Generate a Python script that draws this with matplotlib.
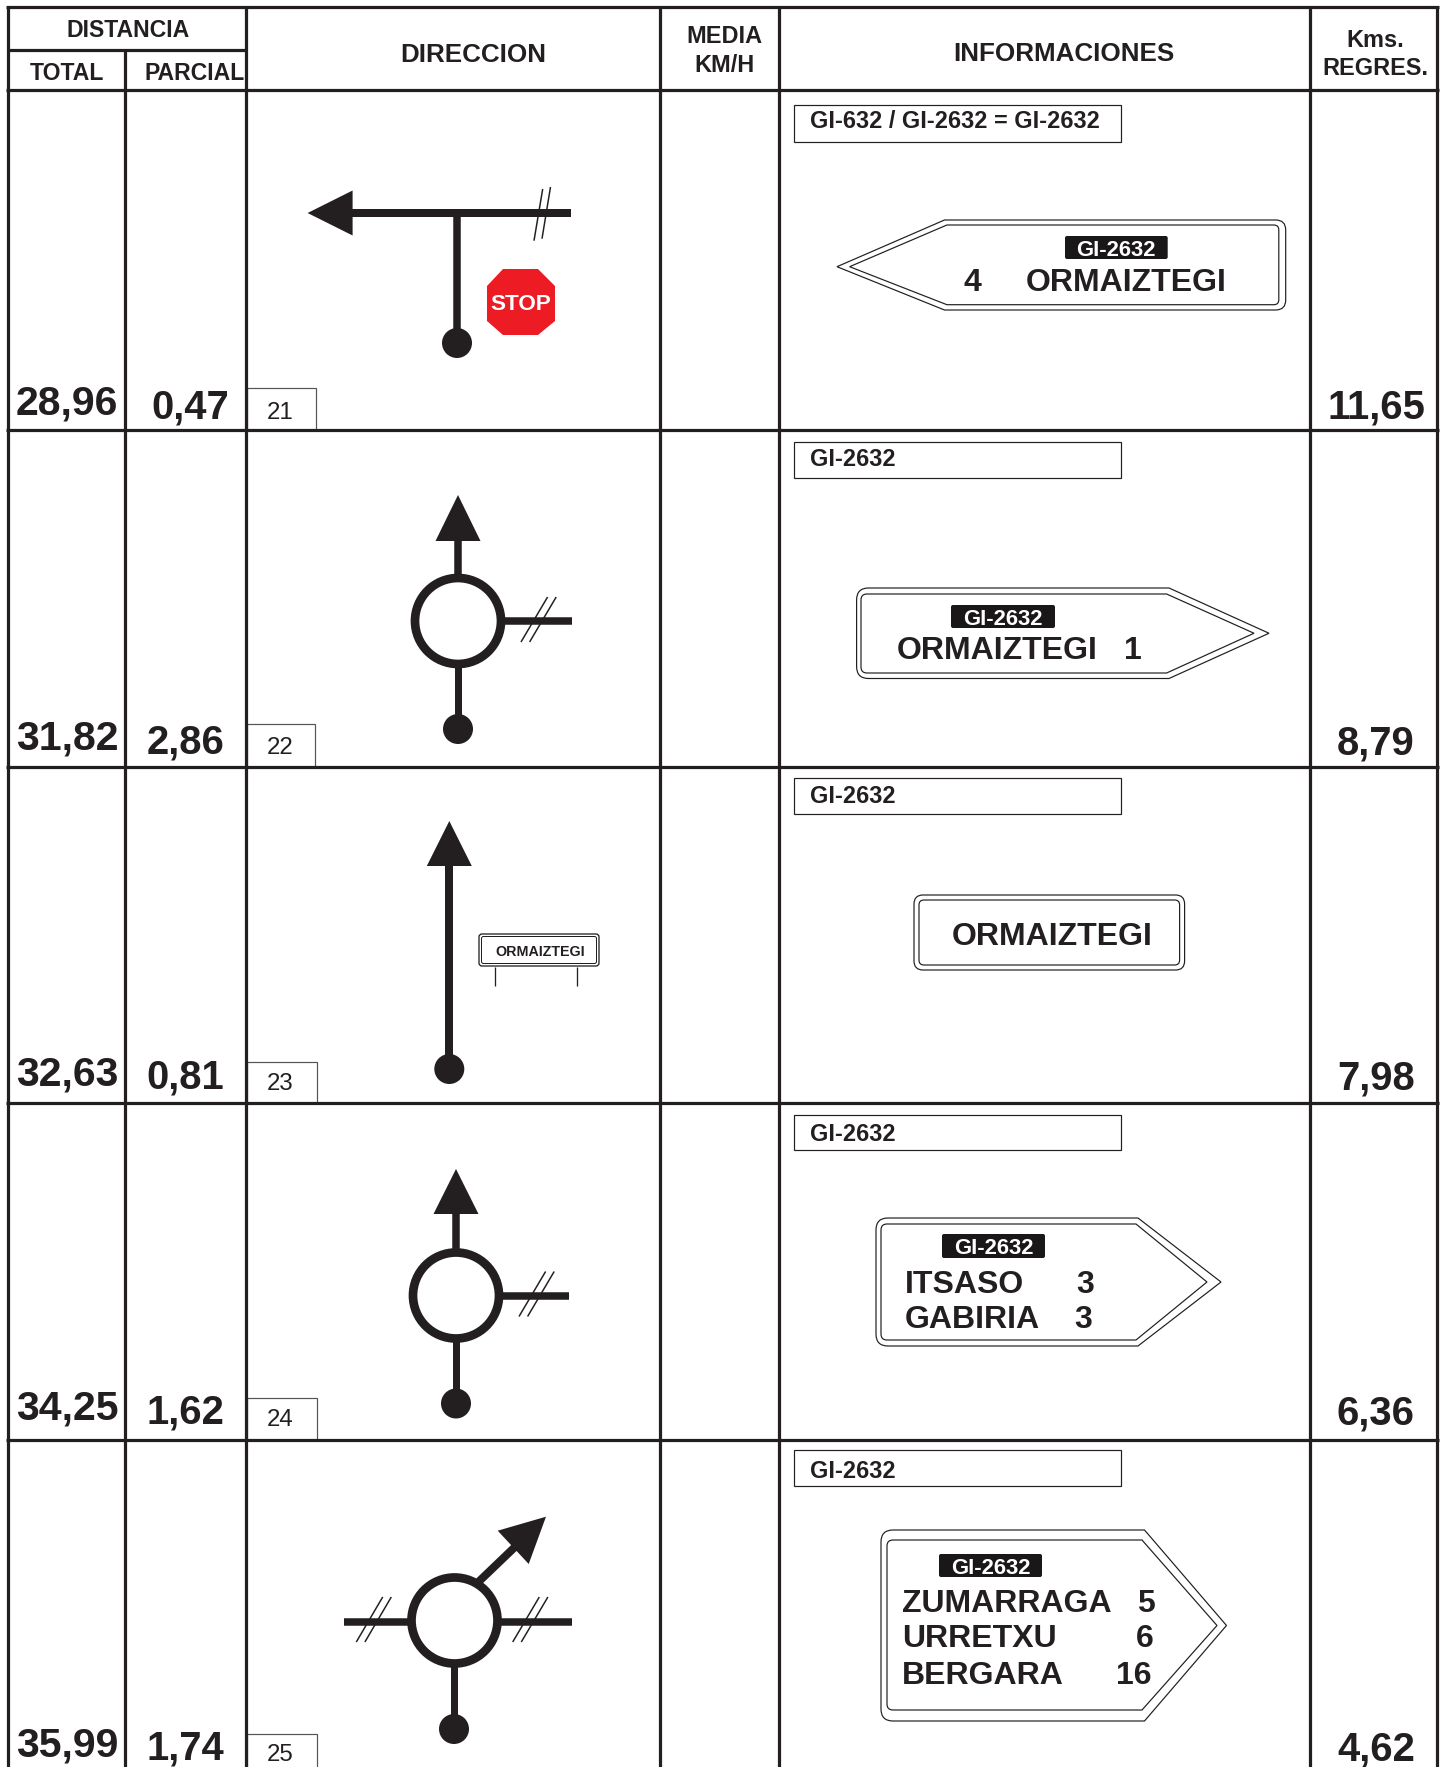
import numpy as np
import matplotlib
matplotlib.use("Agg")
import matplotlib.pyplot as plt
from matplotlib.patches import Circle, PathPatch, Polygon, Rectangle, FancyBboxPatch
from matplotlib.path import Path

plt.rcParams['font.family'] = ['Liberation Sans', 'DejaVu Sans']

# table values
step_ids = ["21", "22", "23", "24", "25"]
total_km = ["28,96", "31,82", "32,63", "34,25", "35,99"]
partial_km = ["0,47", "2,86", "0,81", "1,62", "1,74"]
regres_km = ["11,65", "8,79", "7,98", "6,36", "4,62"]
road_labels = ["GI-632 / GI-2632 = GI-2632", "GI-2632", "GI-2632", "GI-2632", "GI-2632"]
place = "ORMAIZTEGI"
plate = "GI-2632"
row4_names = ["ITSASO", "GABIRIA"]
row4_km = ["3", "3"]
row5_names = ["ZUMARRAGA", "URRETXU", "BERGARA"]
row5_km = ["5", "6", "16"]

INK = "#231f20"
W, H = 1446, 1767

fig = plt.figure(figsize=(W / 100, H / 100), dpi=100)
ax = fig.add_axes([0, 0, 1, 1])
ax.set_xlim(0, W)
ax.set_ylim(H, 0)
ax.axis("off")


def px(v):
    return v * 0.72


def txt(x, y, s, size, ha="center", color=INK, weight="bold", zorder=6):
    ax.text(x, y, s, fontsize=px(size), ha=ha, va="baseline", color=color,
            fontweight=weight, zorder=zorder)


def seg(x0, y0, x1, y1, w, color=INK, zorder=3):
    ax.plot([x0, x1], [y0, y1], color=color, lw=px(w), solid_capstyle="butt", zorder=zorder)


def rounded(points, radii):
    # closed outline with a little curve on the corners that have a radius
    verts, codes = [], []
    n = len(points)
    for i in range(n):
        p = np.array(points[i], float)
        r = radii[i]
        a = np.array(points[i - 1], float)
        b = np.array(points[(i + 1) % n], float)
        if r > 0:
            s = p + (a - p) / np.linalg.norm(a - p) * r
            e = p + (b - p) / np.linalg.norm(b - p) * r
            verts += [s, p, e]
            codes += [Path.LINETO, Path.CURVE3, Path.CURVE3]
        else:
            verts.append(p)
            codes.append(Path.LINETO)
    codes[0] = Path.MOVETO
    verts.append(verts[0])
    codes.append(Path.CLOSEPOLY)
    return Path(verts, codes)


def outline(points, radii, lw=1.2):
    ax.add_patch(PathPatch(rounded(points, radii), fc="white", ec=INK, lw=px(lw), zorder=4))


def plate_box(x0, x1, y0, y1):
    ax.add_patch(FancyBboxPatch((x0 + 2, y0 + 2), x1 - x0 - 4, y1 - y0 - 4,
                                boxstyle="round,pad=2,rounding_size=2",
                                fc="#1a1718", ec="none", zorder=5))
    txt((x0 + x1) / 2, (y0 + y1) / 2 + 8, plate, 22, color="white")


def right_sign(l, t, b, sh, tip, il, it, ib, ish, itip):
    my = (t + b) / 2
    outline([(l, t), (sh, t), (tip, my), (sh, b), (l, b)], [12, 0, 0, 0, 12])
    outline([(il, it), (ish, it), (itip, my), (ish, ib), (il, ib)], [6, 0, 0, 0, 6])


def dot(x, y):
    ax.add_patch(Circle((x, y), 15, fc=INK, ec="none", zorder=5))


def up_head(x, tip, base, half=22.5):
    ax.add_patch(Polygon([(x, tip), (x - half, base), (x + half, base)], fc=INK, ec="none", zorder=5))


def ring(x, y):
    ax.add_patch(Circle((x, y), 43, fc="white", ec=INK, lw=px(8.7), zorder=4))


def slashes(x, y):
    # the two thin strokes across a road that is not taken
    for off in (0, 8.6):
        seg(x + 63 + off, y + 21, x + 63 + off + 26.6, y - 24, 1.5, zorder=4)


def roundabout_up(x, y, tip, base, right_end):
    seg(x, base, x, y, 7.5)
    up_head(x, tip, base)
    seg(x, y, x, y + 108, 7)
    dot(x, y + 108)
    seg(x, y, right_end, y, 7.5)
    slashes(x, y)
    ring(x, y)


# table grid
LW = 3.2
row_lines = [90, 430, 767, 1103, 1440]
col_lines = [8, 246, 659.5, 779, 1309.5, 1437]
seg(6.4, 7, 1438.6, 7, LW)
for y in row_lines:
    seg(6.4, y, 1438.6, y, LW)
seg(8, 50, 246, 50, LW)
for x in col_lines:
    seg(x, 7, x, H, LW)
seg(125, 50, 125, H, LW)

# headers
txt(128.5, 36.7, "DISTANCIA", 23)
txt(67, 80, "TOTAL", 23)
txt(195, 80, "PARCIAL", 23)
txt(473.5, 61.5, "DIRECCION", 26)
txt(724, 43, "MEDIA", 23.5)
txt(724, 72, "KM/H", 23.5)
txt(1064, 61, "INFORMACIONES", 26)
txt(1375, 46.7, "Kms.", 23.5)
txt(1375, 75, "REGRES.", 23.5)

# numbers down the rows
total_base = [414, 749, 1085, 1419, 1756]
part_base = [418, 753, 1088, 1423, 1759]
part_x = [190.5, 185.5, 185, 185, 185]
reg_base = [418, 754, 1089, 1424, 1760]
id_box = [(388, 316), (724, 315), (1062, 317), (1398, 317), (1734, 317)]
id_base = [419, 754, 1090, 1426, 1761]
label_box = [(105, 142), (442, 478), (778, 814), (1115, 1150), (1450, 1486)]
label_base = [128, 465.5, 802.5, 1140.5, 1478]
for i in range(5):
    txt(67, total_base[i], total_km[i], 41)
    txt(part_x[i], part_base[i], partial_km[i], 40)
    txt(1376, reg_base[i], regres_km[i], 40)
    top, right = id_box[i]
    ax.add_patch(Rectangle((247, top), right - 247, H + 20 - top if i == 4 else row_lines[i + 1] - top,
                           fc="white", ec="#555555", lw=px(1.2), zorder=2))
    txt(280, id_base[i], step_ids[i], 24, weight="normal")
    y0, y1 = label_box[i]
    ax.add_patch(Rectangle((793.5, y0), 327.5, y1 - y0, fc="white", ec=INK, lw=px(1.2), zorder=2))
    txt(810, label_base[i], road_labels[i], 23.5, ha="left")

# row 1 diagram
seg(352, 213, 571, 213, 8)
ax.add_patch(Polygon([(307.6, 213), (352.6, 190.5), (352.6, 235.5)], fc=INK, ec="none", zorder=5))
seg(457, 209, 457, 343, 7.5)
dot(457, 343)
seg(534, 240.7, 542.7, 189, 1.5, zorder=4)
seg(542, 238.7, 550.5, 187, 1.5, zorder=4)
ax.add_patch(Polygon([(503, 269), (538, 269), (555, 286), (555, 321), (538, 335), (503, 335),
                      (487, 321), (487, 286)], fc="#ed1c24", ec="none", zorder=5))
txt(520.5, 310, "STOP", 22.5, color="white")

# row 2 and row 4 diagrams
roundabout_up(458, 621, 495, 541, 571.5)
roundabout_up(456, 1295.5, 1169, 1214, 569)

# row 3 diagram
seg(449.3, 866, 449.3, 1069, 8)
up_head(449.3, 821, 866)
dot(449.3, 1069)
ax.add_patch(FancyBboxPatch((479, 934), 120, 32, boxstyle="round,pad=0,rounding_size=3",
                            fc="white", ec=INK, lw=px(1.3), zorder=4))
ax.add_patch(FancyBboxPatch((481.5, 936.5), 115, 27, boxstyle="round,pad=0,rounding_size=2",
                            fc="white", ec=INK, lw=px(1.0), zorder=4))
txt(540, 955.7, place, 14.3)
seg(494.7, 967, 494.7, 985.7, 1.3)
seg(576.7, 967, 576.7, 985.7, 1.3)

# row 5 diagram
seg(344, 1622, 572, 1622, 7.5)
seg(454, 1620, 454, 1729, 7)
dot(454, 1729)
seg(470, 1590, 517, 1545, 8)
ax.add_patch(Polygon([(546, 1516.7), (497.7, 1530.7), (528.7, 1564)], fc=INK, ec="none", zorder=5))
for off in (0, 8.6):
    seg(356.3 + off, 1642, 382.7 + off, 1597, 1.5, zorder=4)
    seg(512.7 + off, 1642, 539.3 + off, 1597, 1.5, zorder=4)
ring(454.5, 1620.5)

# row 1 sign, points left
outline([(837, 266.7), (944.5, 220), (1285.7, 220), (1285.7, 310), (944.5, 310)], [0, 0, 10, 10, 0])
outline([(849.6, 266.7), (946.9, 225), (1278.8, 225), (1278.8, 304.7), (946.9, 304.7)], [0, 0, 5, 5, 0])
plate_box(1065, 1167.7, 236, 259)
txt(972, 291, "4", 32)
txt(1026, 291, place, 32, ha="left")

# row 2 sign
right_sign(856.6, 588, 678.5, 1169, 1269, 861, 594, 673, 1166.6, 1254)
plate_box(951, 1055, 605, 628)
txt(897, 658.5, place, 32, ha="left")
txt(1133, 658.5, "1", 32)

# row 3 sign
ax.add_patch(FancyBboxPatch((914, 895), 270.6, 75, boxstyle="round,pad=0,rounding_size=9",
                            fc="white", ec=INK, lw=px(1.2), zorder=4))
ax.add_patch(FancyBboxPatch((919, 900), 260.6, 65, boxstyle="round,pad=0,rounding_size=5",
                            fc="white", ec=INK, lw=px(1.2), zorder=4))
txt(1052, 945, place, 32)

# row 4 sign
right_sign(876, 1218, 1346, 1138, 1221, 881, 1224, 1340, 1136, 1207)
plate_box(942, 1045, 1234, 1258)
row4_base = [1293, 1328]
row4_x = [1085, 1083]
for i in range(2):
    txt(905, row4_base[i], row4_names[i], 32, ha="left")
    txt(row4_x[i], row4_base[i], row4_km[i], 32)

# row 5 sign
right_sign(881, 1530, 1721, 1144.5, 1226.5, 887, 1540, 1710, 1142, 1217)
plate_box(939, 1042, 1554, 1577)
row5_base = [1612, 1647, 1684]
row5_x = [1146, 1145, 1134]
for i in range(3):
    txt(902, row5_base[i], row5_names[i], 32, ha="left")
    txt(row5_x[i], row5_base[i], row5_km[i], 32)

fig.savefig("out.png", dpi=100, facecolor="white")
